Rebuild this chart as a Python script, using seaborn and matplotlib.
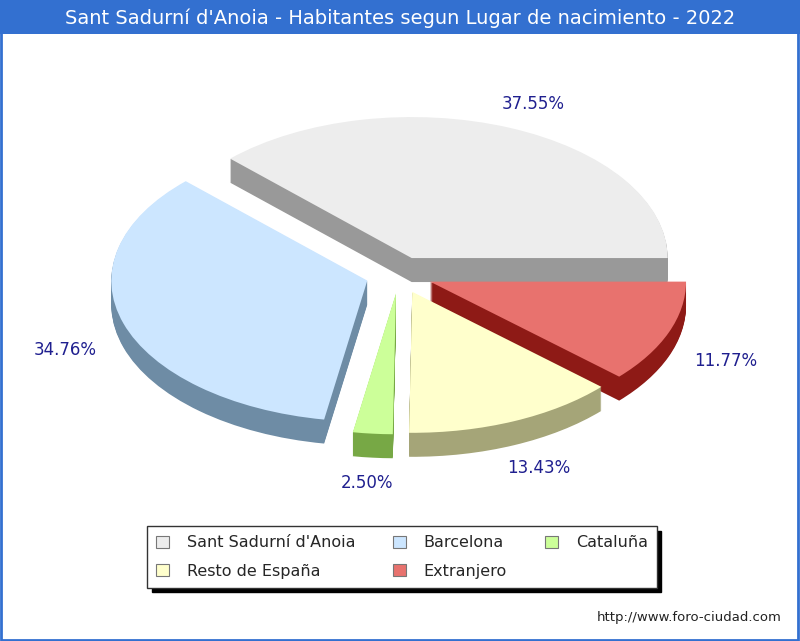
import matplotlib
matplotlib.use("Agg")
import matplotlib.pyplot as plt
import seaborn as sns
from matplotlib.patches import Patch, Rectangle

# --- DATA ---
categories = ["Sant Sadurní d'Anoia", "Barcelona", "Cataluña", "Resto de España", "Extranjero"]
percentages = [37.55, 34.76, 2.50, 13.43, 11.77]
pct_labels = ["37.55%", "34.76%", "2.50%", "13.43%", "11.77%"]

# --- STYLE ---
top_colors = ["#EDEDED", "#CCE6FF", "#CCFF99", "#FFFFCC", "#E8726E"]
side_colors = ["#999999", "#6E8CA5", "#77A845", "#A5A578", "#8E1A16"]
title_blue = "#3370D0"
label_color = "#1F1F8F"

sns.set_style("white")
plt.rcParams['font.family'] = ['DejaVu Sans']

W, H = 800, 641
fig = plt.figure(figsize=(W / 100, H / 100), dpi=100)
ax = fig.add_axes([0, 0, 1, 1])

# pie geometry in pixels (ellipse radii, centre, depth)
cx, cy = 399, 275
rx, ry = 256, 141
depth_px = 24
explode = [0.13] * len(percentages)
n_layers = depth_px

# side walls: stacked copies shifted down
for k in range(n_layers, 0, -1):
    off = -k / ry
    ax.pie(percentages, colors=side_colors, startangle=0, counterclock=True,
           explode=explode, center=(0, off),
           wedgeprops=dict(linewidth=0, antialiased=True))

# top surface with labels
wedges, texts = ax.pie(percentages, colors=top_colors, startangle=0, counterclock=True,
                       explode=explode, labels=pct_labels, labeldistance=1.24,
                       wedgeprops=dict(linewidth=0, antialiased=True),
                       textprops=dict(color=label_color, fontsize=12))
for t in texts:
    x, y = t.get_position()
    # upper labels sit a little higher than the lower ones
    shift = (depth_px / 2 + 4) / ry if y < 0 else 8 / ry
    t.set_position((x, y - shift))
    t.set_ha("center")
    t.set_va("center")

ax.set_aspect("auto")
ax.set_xlim(-cx / rx, (W - cx) / rx)
ax.set_ylim(-(H - cy) / ry, cy / ry)
ax.axis("off")

# title bar
fig.add_artist(Rectangle((0, (H - 34) / H), 1, 34 / H, transform=fig.transFigure,
                         facecolor=title_blue, edgecolor="none", zorder=5))
fig.text(0.5, (H - 18) / H, "Sant Sadurní d'Anoia - Habitantes segun Lugar de nacimiento - 2022",
         ha="center", va="center", color="white", fontsize=14, zorder=6)
# outer border
fig.add_artist(Rectangle((0.001, 0.002), 0.997, 0.996, transform=fig.transFigure,
                         facecolor="none", edgecolor=title_blue, linewidth=2, zorder=6))

# legend (column-major order to get the reference row layout)
order = [0, 3, 1, 4, 2]
handles = [Patch(facecolor=top_colors[i], edgecolor="#777777", linewidth=0.8, label=categories[i])
           for i in order]
leg = fig.legend(handles=handles, loc="center", bbox_to_anchor=(402 / W, (H - 557) / H),
                 ncol=3, fontsize=11.5, frameon=True, fancybox=False,
                 shadow={"color": "black", "alpha": 1.0, "ox": 3, "oy": -3},
                 handlelength=0.8, handleheight=0.8, handletextpad=1.1,
                 columnspacing=2.4, labelspacing=0.85, borderpad=0.55, borderaxespad=0)
leg.get_frame().set_edgecolor("#333333")
leg.get_frame().set_linewidth(1.0)

# footer
fig.text(782 / W, (H - 617) / H, "http://www.foro-ciudad.com", ha="right", va="center",
         fontsize=9.5, color="#222222")

fig.savefig("out.png", dpi=100, facecolor="white")
